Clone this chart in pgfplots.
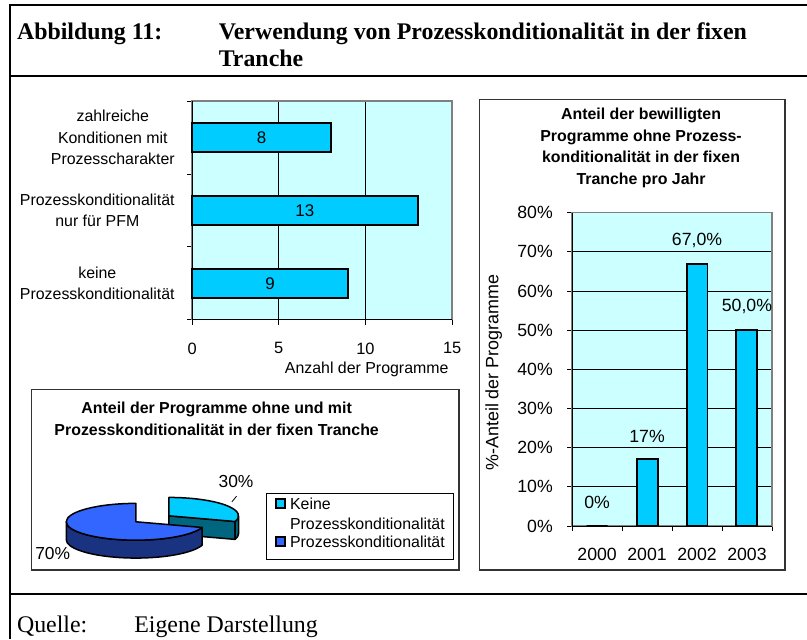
\documentclass[border=0pt]{standalone}
\usepackage{fontspec}
\setmainfont{Liberation Serif}
\setsansfont{Liberation Sans}
\usepackage{pgfplots}
\usepackage{pgfplotstable}
\pgfplotsset{compat=1.18}
\pgfplotsset{/pgf/number format/assume math mode=true}

\definecolor{plotbg}{RGB}{204,255,255}
\definecolor{barcyan}{RGB}{0,204,255}
\definecolor{cyanside}{RGB}{0,102,128}
\definecolor{pieblue}{RGB}{51,102,255}
\definecolor{blueside}{RGB}{26,51,128}
\definecolor{bordergray}{RGB}{128,128,128}
\definecolor{framegray}{RGB}{51,51,51}

\newcommand\sfs[1]{\sffamily\fontsize{#1bp}{21.7bp}\selectfont}
\newcommand\sfb[1]{\sffamily\bfseries\fontsize{#1bp}{21.7bp}\selectfont}
\newcommand\titlefont{\rmfamily\bfseries\fontsize{24bp}{28bp}\selectfont}
\newcommand\footfont{\rmfamily\fontsize{24bp}{28bp}\selectfont}

\pgfplotstableread{
y value
0 9
1 13
2 8
}\anzahldata

\pgfplotstableread{
label value
Keine 30
Prozess 70
}\piedata

\begin{document}
\pgfplotstablegetelem{0}{value}\of\piedata
\pgfmathsetmacro\cutangle{90-3.6*\pgfplotsretval}
\pgfmathsetmacro\cutangleB{\cutangle+360}
\begin{tikzpicture}
\path[use as bounding box] (0,0) rectangle (807bp,643bp);

% outer frame
\draw[line width=2bp] (807bp,638bp) -- (4.7bp,638bp) -- (4.7bp,0bp);
\draw[line width=2bp] (4.7bp,567bp) -- (807bp,567bp);
\draw[line width=2bp] (4.7bp,45bp) -- (807bp,45bp);

\node[inner sep=0, anchor=base west, font=\titlefont] at (12bp,603.5bp) {Abbildung 11:};
\node[inner sep=0, anchor=base west, font=\titlefont] at (215bp,603.5bp) {Verwendung von Prozesskonditionalität in der fixen};
\node[inner sep=0, anchor=base west, font=\titlefont] at (215bp,576bp) {Tranche};
\node[inner sep=0, anchor=base west, font=\footfont] at (12bp,7bp) {Quelle:};
\node[inner sep=0, anchor=base west, font=\footfont] at (130bp,7bp) {Eigene Darstellung};

% ---------- left bar chart ----------
\begin{axis}[
  at={(188.3bp,321.3bp)}, anchor=south west,
  scale only axis, width=261.7bp, height=220bp,
  xbar, bar width=0.4,
  xmin=0, xmax=15, ymin=-0.5, ymax=2.5,
  xtick={0,5,10,15},
  ytick={-0.5,0.5,1.5,2.5}, yticklabels={},
  extra y ticks={0,1,2},
  extra y tick labels={{keine\\Prozesskonditionalität},{Prozesskonditionalität\\nur für PFM},{zahlreiche\\Konditionen mit\\Prozesscharakter}},
  extra y tick style={major tick length=0bp, yticklabel style={align=center, font=\sfs{16}, xshift=-14bp}},
  xticklabel style={font=\sfs{16.5}, yshift=-14.5bp},
  tick align=outside, tick pos=left, major tick length=5bp,
  tick style={black, line width=0.8bp},
  xmajorgrids, grid style={black, line width=0.8bp},
  axis background/.style={fill=plotbg},
  axis line style={draw=bordergray, line width=1.5bp},
  clip=false,
]
\addplot[fill=barcyan, draw=black, line width=2bp, point meta=x, nodes near coords,
  visualization depends on={rawx \as \rawx},
  nodes near coords style={anchor=center, font=\sfs{17}, text=black, shift={(axis direction cs:-0.5*\rawx,0)}}]
  table[x=value, y=y] {\anzahldata};
\draw[black, line width=1bp] (rel axis cs:0,1) -- (rel axis cs:0,0) -- (rel axis cs:1,0);
\end{axis}
\node[font=\sfs{16}] at (364bp,271bp) {Anzahl der Programme};

% ---------- right bar chart ----------
\draw[framegray, line width=1.5bp] (477.3bp,543bp) rectangle (784.7bp,69.7bp);
\node[font=\sfb{16}, align=center] at (640bp,494bp) {Anteil der bewilligten\\Programme ohne Prozess-\\konditionalität in der fixen\\Tranche pro Jahr};
\node[rotate=90, font=\sfs{18}] at (491.7bp,268bp) {\%-Anteil der Programme};
\begin{axis}[
  at={(570.7bp,113.7bp)}, anchor=south west,
  scale only axis, width=201bp, height=315.3bp,
  ybar, bar width=0.42,
  xmin=-0.5, xmax=3.5, ymin=0, ymax=80,
  xtick={-0.5,0.5,1.5,2.5,3.5}, xticklabels={},
  extra x ticks={0,1,2,3}, extra x tick labels={2000,2001,2002,2003},
  extra x tick style={major tick length=0bp},
  xticklabel style={font=\sfs{17.8}, yshift=-18.6bp},
  ytick={0,10,...,80},
  yticklabels={0\%,10\%,20\%,30\%,40\%,50\%,60\%,70\%,80\%},
  yticklabel style={font=\sfs{17.8}, xshift=-11bp},
  tick align=outside, tick pos=left, major tick length=5bp,
  tick style={black, line width=0.8bp},
  ymajorgrids, grid style={black, line width=0.8bp},
  axis background/.style={fill=plotbg},
  axis line style={draw=bordergray, line width=1.5bp},
  clip=false,
]
\addplot[fill=barcyan, draw=black, line width=2bp, point meta=explicit symbolic, nodes near coords,
  nodes near coords style={anchor=center, font=\sfs{17.8}, text=black, yshift=23.5bp}]
  coordinates {(0,0) [0\%] (1,17) [17\%] (2,67) [67,0\%] (3,50) [50,0\%]};
\draw[black, line width=1bp] (rel axis cs:0,1) -- (rel axis cs:0,0) -- (rel axis cs:1,0);
\end{axis}

% ---------- pie chart ----------
\begin{axis}[at={(0bp,0bp)}, anchor=south west, x=1bp, y=1bp,
  xmin=0, xmax=807, ymin=0, ymax=643, hide axis, clip=false]
\draw[framegray, line width=1.5bp] (axis cs:26.7,251.3) rectangle (axis cs:456.7,69.7);
\node[font=\sfb{16}, align=center] at (axis cs:213,221.8) {Anteil der Programme ohne und mit\\Prozesskonditionalität in der fixen Tranche};
% small (exploded) slice: Keine Prozesskonditionalitaet
\filldraw[fill=cyanside, draw=black, line width=1.5bp, line join=round]
  (axis cs:165,124) -- ++(\cutangle:70bp and 18.5bp) -- ++(0,-18bp) -- ([yshift=-18bp]axis cs:165,124) -- cycle;
\filldraw[fill=cyanside, draw=black, line width=1.5bp, line join=round]
  (axis cs:165,124) ++(\cutangle:70bp and 18.5bp) arc[start angle=\cutangle, end angle=0, x radius=70bp, y radius=18.5bp]
  -- ++(0,-18bp) arc[start angle=0, end angle=\cutangle, x radius=70bp, y radius=18.5bp] -- cycle;
\filldraw[fill=barcyan, draw=black, line width=1.5bp, line join=round]
  (axis cs:165,124) -- ++(0,18.5bp) arc[start angle=90, end angle=\cutangle, x radius=70bp, y radius=18.5bp] -- cycle;
% big slice: Prozesskonditionalitaet
\filldraw[fill=blueside, draw=black, line width=1.5bp, line join=round]
  (axis cs:131.7,118) ++(-70bp,0) arc[start angle=180, end angle=\cutangleB, x radius=70bp, y radius=18.5bp]
  -- ++(0,-18bp) arc[start angle=\cutangleB, end angle=180, x radius=70bp, y radius=18.5bp] -- cycle;
\filldraw[fill=pieblue, draw=black, line width=1.5bp, line join=round]
  (axis cs:131.7,118) -- ++(0,18.5bp) arc[start angle=90, end angle=\cutangleB, x radius=70bp, y radius=18.5bp] -- cycle;
\draw[black, line width=0.8bp] (axis cs:233,143.7) -- (axis cs:228.3,138);
\node[font=\sfs{17.5}] at (axis cs:232.5,159) {30\%};
\node[font=\sfs{17.5}] at (axis cs:48,86.3) {70\%};
% legend
\draw[black, line width=1bp] (axis cs:263.3,146.3) rectangle (axis cs:451,79.7);
\filldraw[fill=barcyan, draw=black, line width=2bp] (axis cs:272.5,131.5) rectangle (axis cs:281.5,140.5);
\filldraw[fill=pieblue, draw=black, line width=2bp] (axis cs:272.5,93.5) rectangle (axis cs:281.5,102.5);
\node[anchor=west, inner sep=0, font=\sfs{16}] at (axis cs:286.7,136) {Keine};
\node[anchor=west, inner sep=0, font=\sfs{16}] at (axis cs:286.7,115.5) {Prozesskonditionalität};
\node[anchor=west, inner sep=0, font=\sfs{16}] at (axis cs:286.7,98) {Prozesskonditionalität};
\end{axis}
\end{tikzpicture}
\end{document}
